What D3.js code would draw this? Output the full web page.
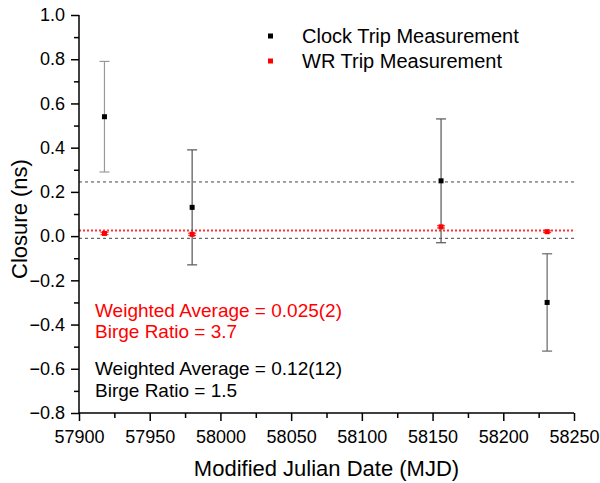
<!DOCTYPE html>
<html>
<head>
<meta charset="utf-8">
<script src="https://cdn.jsdelivr.net/npm/d3@7"></script>
<style>
  body { margin: 0; background: #fff; }
  text { font-family: "Liberation Sans", Arial, sans-serif; }
</style>
</head>
<body>
<div id="chart"></div>
<script>
var svgWidth = 600;
var svgHeight = 483;

var margin = { top: 15, right: 26, bottom: 70, left: 79 };
var width = svgWidth - margin.left - margin.right;
var height = svgHeight - margin.top - margin.bottom;

// data
var mjd = [57918, 57980, 58156, 58231];
var clockClosure = [0.54, 0.13, 0.25, -0.30];
var clockErr = [0.25, 0.26, 0.28, 0.22];
var wrClosure = [0.012, 0.008, 0.042, 0.02];
var wrErr = [0.005, 0.005, 0.005, 0.004];
var clockBarColor = ["#999", "#555", "#555", "#666"];

var xTicks = [57900, 57950, 58000, 58050, 58100, 58150, 58200, 58250];
var yTicks = [-0.8, -0.6, -0.4, -0.2, 0.0, 0.2, 0.4, 0.6, 0.8, 1.0];

var clockBand = [0.245, -0.01];
var wrAverage = 0.025;

var svg = d3.select("#chart")
  .append("svg")
  .attr("width", svgWidth)
  .attr("height", svgHeight);

var chartGroup = svg.append("g")
  .attr("transform", `translate(${margin.left}, ${margin.top})`);

var x = d3.scaleLinear().domain([57900, 58250]).range([0, width]);
var y = d3.scaleLinear().domain([-0.8, 1.0]).range([height, 0]);

// reference lines
chartGroup.selectAll(".band")
  .data(clockBand)
  .enter()
  .append("line")
  .attr("x1", 0)
  .attr("x2", width)
  .attr("y1", d => y(d))
  .attr("y2", d => y(d))
  .attr("stroke", "#444")
  .attr("stroke-width", 1)
  .attr("stroke-dasharray", "3,3");

chartGroup.append("line")
  .attr("x1", 0)
  .attr("x2", width)
  .attr("y1", y(wrAverage))
  .attr("y2", y(wrAverage))
  .attr("stroke", "#f00")
  .attr("stroke-width", 2)
  .attr("stroke-dasharray", "2,2")
  .attr("opacity", 0.8);

var clock = mjd.map((d, i) => ({ x: d, y: clockClosure[i], e: clockErr[i], c: clockBarColor[i] }));
var wr = mjd.map((d, i) => ({ x: d, y: wrClosure[i], e: wrErr[i] }));

function errorBars(data, color, cap, cls) {
  var g = chartGroup.selectAll("." + cls)
    .data(data)
    .enter()
    .append("g")
    .attr("class", cls)
    .attr("stroke", d => color || d.c)
    .attr("stroke-width", 1.2);
  g.append("line")
    .attr("x1", d => x(d.x)).attr("x2", d => x(d.x))
    .attr("y1", d => y(d.y - d.e)).attr("y2", d => y(d.y + d.e));
  g.append("line")
    .attr("x1", d => x(d.x) - cap).attr("x2", d => x(d.x) + cap)
    .attr("y1", d => y(d.y + d.e)).attr("y2", d => y(d.y + d.e));
  g.append("line")
    .attr("x1", d => x(d.x) - cap).attr("x2", d => x(d.x) + cap)
    .attr("y1", d => y(d.y - d.e)).attr("y2", d => y(d.y - d.e));
}

errorBars(clock, null, 5, "clockbar");
errorBars(wr, "#f33", 4, "wrbar");

chartGroup.selectAll(".clockpt")
  .data(clock)
  .enter()
  .append("rect")
  .attr("x", d => x(d.x) - 2.5)
  .attr("y", d => y(d.y) - 2.5)
  .attr("width", 5)
  .attr("height", 5)
  .attr("fill", "#000");

chartGroup.selectAll(".wrpt")
  .data(wr)
  .enter()
  .append("rect")
  .attr("x", d => x(d.x) - 2.5)
  .attr("y", d => y(d.y) - 2.5)
  .attr("width", 5)
  .attr("height", 5)
  .attr("fill", "#f00");

// axes
var bottomAxis = d3.axisBottom(x).tickValues(xTicks).tickFormat(d3.format("d")).tickSize(8).tickPadding(9);
var leftAxis = d3.axisLeft(y).tickValues(yTicks).tickFormat(d3.format(".1f")).tickSize(8).tickPadding(6);

var xAxisG = chartGroup.append("g")
  .attr("transform", `translate(0, ${height})`)
  .call(bottomAxis);
var yAxisG = chartGroup.append("g").call(leftAxis);

// minor ticks
chartGroup.append("g")
  .attr("transform", `translate(0, ${height})`)
  .call(d3.axisBottom(x).tickValues(d3.range(57925, 58250, 50)).tickSize(5).tickFormat(""))
  .select(".domain").remove();
chartGroup.append("g")
  .call(d3.axisLeft(y).tickValues(d3.range(-0.7, 1.0, 0.2)).tickSize(5).tickFormat(""))
  .select(".domain").remove();

chartGroup.selectAll(".domain").attr("stroke-width", 1.5);
chartGroup.selectAll(".tick line").attr("stroke-width", 1.5);
xAxisG.select(".domain").attr("d", `M0,0H${width}`);
yAxisG.select(".domain").attr("d", `M0,${height}V0`);

xAxisG.selectAll(".tick text").attr("font-size", 18).attr("fill", "#000");
yAxisG.selectAll(".tick text").attr("font-size", 18).attr("fill", "#000");

// axis titles
svg.append("text")
  .attr("x", margin.left + width / 2)
  .attr("y", 476)
  .attr("text-anchor", "middle")
  .attr("font-size", 22)
  .text("Modified Julian Date (MJD)");

svg.append("text")
  .attr("transform", `translate(27, 219) rotate(-90)`)
  .attr("text-anchor", "middle")
  .attr("font-size", 22)
  .text("Closure (ns)");

// legend
var legendItems = [
  { label: "Clock Trip Measurement", color: "#000" },
  { label: "WR Trip Measurement", color: "#f00" }
];
var legend = svg.selectAll(".legend")
  .data(legendItems)
  .enter()
  .append("g")
  .attr("transform", (d, i) => `translate(268, ${36 + i * 25})`);
legend.append("rect")
  .attr("x", 0).attr("y", -2.5)
  .attr("width", 5).attr("height", 5)
  .attr("fill", d => d.color);
legend.append("text")
  .attr("x", 34)
  .attr("y", 7)
  .attr("font-size", 20)
  .text(d => d.label);

// annotations
var notes = [
  { text: "Weighted Average = 0.025(2)", y: 317, color: "#f00" },
  { text: "Birge Ratio = 3.7", y: 338, color: "#f00" },
  { text: "Weighted Average = 0.12(12)", y: 375, color: "#000" },
  { text: "Birge Ratio = 1.5", y: 397, color: "#000" }
];
svg.selectAll(".note")
  .data(notes)
  .enter()
  .append("text")
  .attr("x", 95)
  .attr("y", d => d.y)
  .attr("font-size", 19)
  .attr("fill", d => d.color)
  .text(d => d.text);
</script>
</body>
</html>
